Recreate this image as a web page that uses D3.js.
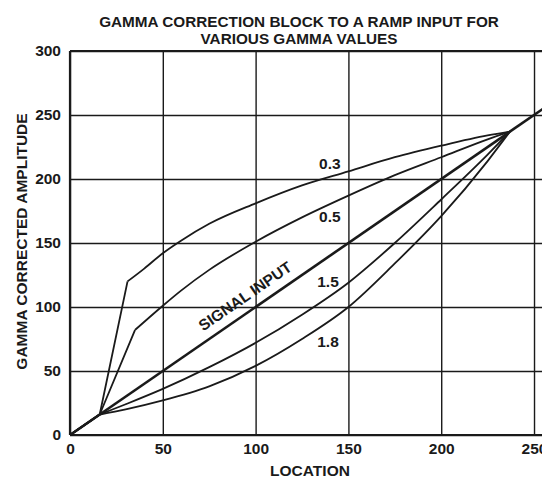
<!DOCTYPE html>
<html>
<head>
<meta charset="utf-8">
<script src="https://cdn.jsdelivr.net/npm/d3@7/dist/d3.min.js"></script>
<style>
  html, body { margin: 0; padding: 0; background: #fff; }
  svg { display: block; font-family: "Liberation Sans", Arial, Helvetica, sans-serif; font-weight: bold; }
</style>
</head>
<body>
<svg id="chart" width="542" height="478"></svg>
<script>
// Ramp input (location 0..255) passed through a gamma-correction block.
// Each curve: [location, corrected amplitude]. Below 16 and above 237 the output follows the input.
const gamma03 = [[0,0],[16,16],[31,120],[40,130],[50,142],[60,152],[75,165],[100,181],[125,195],[150,206],[175,217],[200,226],[225,234],[237,237]];
const gamma05 = [[0,0],[16,16],[35,82],[50,101],[60,113],[75,129],[100,151],[125,170],[150,187],[175,203],[200,217],[225,231],[237,237]];
const gamma15 = [[0,0],[16,16],[30,24],[50,36],[75,53],[100,72],[125,94],[150,119],[175,150],[200,184],[225,219],[237,237]];
const gamma18 = [[0,0],[16,16],[30,20],[50,27],[75,38],[100,54],[125,75],[150,100],[175,134],[200,171],[225,214],[237,237]];
const signalInput = [[0,0],[255,255]];

// Where each curve's straight lead-in ends and the smooth gamma segment starts
const gammaKnee = [31, 35, 16, 16];
const gammaNames = ["0.3", "0.5", "1.5", "1.8"];
const gammaLabelAt = [[140,212],[140,171],[139,120],[139,73]];
const signalLabel = "SIGNAL INPUT";
const signalLabelAt = [94.3,108.6];

const xTicks = [0, 50, 100, 150, 200, 250];
const yTicks = [0, 50, 100, 150, 200, 250, 300];
const titleLines = ["GAMMA CORRECTION BLOCK TO A RAMP INPUT FOR", "VARIOUS GAMMA VALUES"];
const xTitle = "LOCATION";
const yTitle = "GAMMA CORRECTED AMPLITUDE";

const ink = "#1a1a1a";
const svg = d3.select("#chart");
const plotLeft = 70, plotRight = 543.3, plotTop = 51, plotBottom = 435;

const x = d3.scaleLinear().domain([0, 255]).range([plotLeft, plotRight]);
const y = d3.scaleLinear().domain([0, 300]).range([plotBottom, plotTop]);

// Title
svg.append("text")
  .attr("text-anchor", "middle")
  .style("font-size", "15.3px").attr("fill", ink)
  .selectAll("tspan").data(titleLines).join("tspan")
  .attr("x", 299).attr("y", (d, i) => 27 + i * 17)
  .text(d => d);

// Grid + tick labels via axes
const yAxis = svg.append("g").attr("transform", `translate(${plotLeft},0)`)
  .call(d3.axisLeft(y).tickValues(yTicks).tickSizeInner(-(plotRight - plotLeft)).tickSizeOuter(0).tickPadding(9));
yAxis.select(".domain").remove();
yAxis.selectAll(".tick line").attr("stroke", ink).attr("stroke-width", 1.4);
yAxis.selectAll(".tick text").attr("fill", ink).style("font-size", "15.5px")
  .style("font-family", "'Liberation Sans', Arial, sans-serif").style("font-weight", "bold");

const xAxis = svg.append("g").attr("transform", `translate(0,${plotBottom})`)
  .call(d3.axisBottom(x).tickValues(xTicks).tickSizeInner(-(plotBottom - plotTop)).tickSizeOuter(0).tickPadding(8));
xAxis.select(".domain").remove();
xAxis.selectAll(".tick line").attr("stroke", ink).attr("stroke-width", 1.4);
xAxis.selectAll(".tick text").attr("fill", ink).style("font-size", "15.5px")
  .style("font-family", "'Liberation Sans', Arial, sans-serif").style("font-weight", "bold");

// Frame: left and bottom axes, top edge
svg.append("line").attr("x1", plotLeft).attr("x2", plotLeft).attr("y1", plotTop).attr("y2", plotBottom)
  .attr("stroke", ink).attr("stroke-width", 2.2);
svg.append("line").attr("x1", plotLeft).attr("x2", 542).attr("y1", plotBottom).attr("y2", plotBottom)
  .attr("stroke", ink).attr("stroke-width", 2.2);
svg.append("line").attr("x1", plotLeft).attr("x2", 542).attr("y1", plotTop).attr("y2", plotTop)
  .attr("stroke", ink).attr("stroke-width", 1.8);

// Axis titles
svg.append("text").attr("x", 310).attr("y", 476)
  .attr("text-anchor", "middle").style("font-size", "15.5px").attr("fill", ink).text(xTitle);
svg.append("text").attr("transform", `translate(26.5,241.5) rotate(-90)`)
  .attr("text-anchor", "middle").style("font-size", "15.5px").attr("fill", ink).text(yTitle);

// Curves
const plot = svg.append("g");
const straight = d3.line().x(d => x(d[0])).y(d => y(d[1])).curve(d3.curveLinear);
const smooth = d3.line().x(d => x(d[0])).y(d => y(d[1])).curve(d3.curveMonotoneX);

[gamma03, gamma05, gamma15, gamma18].forEach((pts, i) => {
  const k = gammaKnee[i];
  const lead = pts.filter(p => p[0] <= k);
  const body = pts.filter(p => p[0] >= k);
  plot.append("path").attr("d", straight(lead))
    .attr("fill", "none").attr("stroke", ink).attr("stroke-width", 1.8).attr("stroke-linejoin", "round");
  plot.append("path").attr("d", smooth(body))
    .attr("fill", "none").attr("stroke", ink).attr("stroke-width", 1.8).attr("stroke-linejoin", "round");
});

plot.append("path").attr("d", straight(signalInput))
  .attr("fill", "none").attr("stroke", ink).attr("stroke-width", 2.6);

// Curve labels
gammaNames.forEach((name, i) => {
  svg.append("text")
    .attr("x", x(gammaLabelAt[i][0])).attr("y", y(gammaLabelAt[i][1]))
    .attr("text-anchor", "middle").attr("dominant-baseline", "central")
    .style("font-size", "15.5px").attr("fill", ink).text(name);
});

const ang = Math.atan2(y(0) - y(255), x(255) - x(0)) * 180 / Math.PI;
svg.append("text")
  .attr("transform", `translate(${x(signalLabelAt[0])},${y(signalLabelAt[1])}) rotate(${-ang})`)
  .attr("text-anchor", "middle").attr("dominant-baseline", "central")
  .style("font-size", "15.5px").attr("fill", ink).text(signalLabel);
</script>
</body>
</html>
